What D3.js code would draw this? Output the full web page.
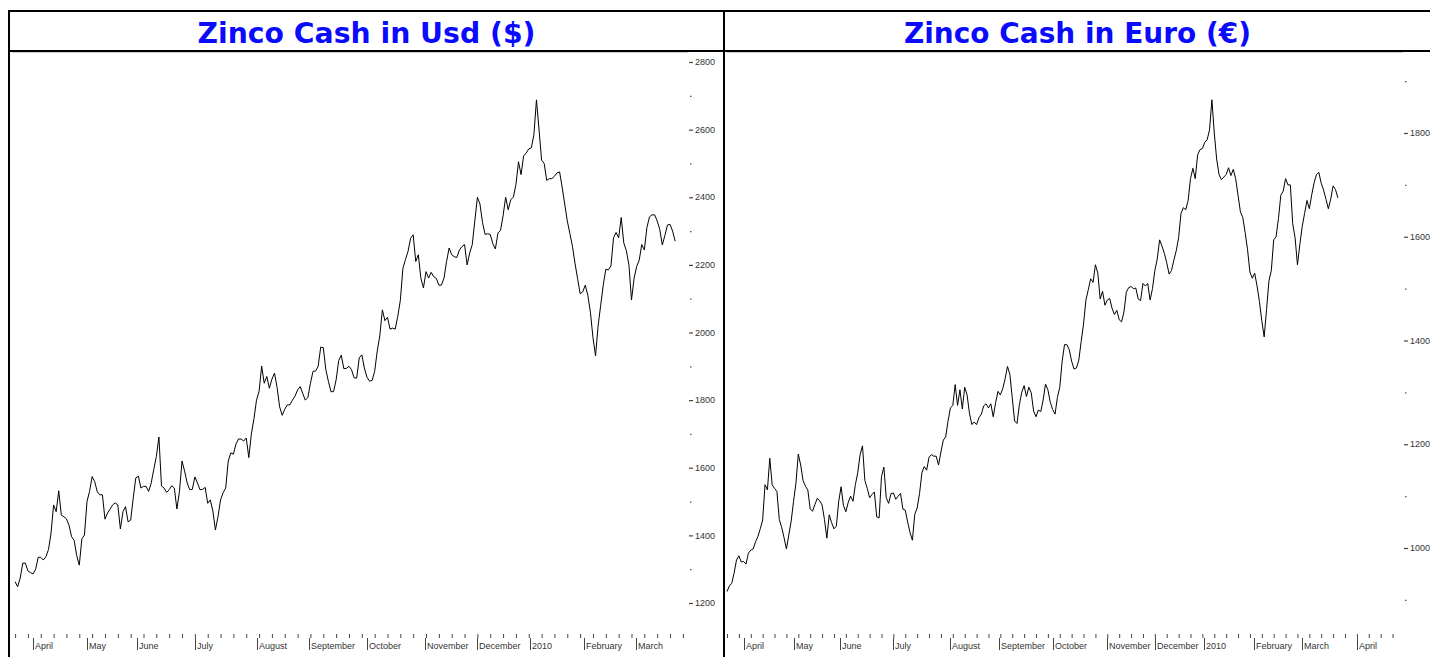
<!DOCTYPE html>
<html>
<head>
<meta charset="utf-8">
<script src="https://cdn.jsdelivr.net/npm/d3@7"></script>
<style>
  body { margin: 0; background: #fff; }
  svg { display: block; font-family: "Liberation Sans", Arial, sans-serif; }
</style>
</head>
<body>
<script>
// zinc cash price, one value per LME trading day (mid March 2009 -> mid March 2010)
const usdValues = [
  1263,1248,1274,1318,1318,1295,1290,1286,1300,1335,1335,1327,1337,1358,1407,1490,1470,1532,1460,1455,
  1449,1430,1396,1385,1340,1312,1390,1401,1500,1530,1574,1559,1529,1520,1520,1448,1466,1478,1490,1496,
  1490,1419,1470,1485,1440,1445,1510,1570,1575,1540,1545,1545,1530,1555,1595,1633,1691,1546,1540,1527,
  1535,1547,1540,1478,1530,1620,1590,1555,1535,1536,1573,1555,1535,1536,1542,1495,1505,1472,1416,1455,
  1505,1526,1540,1620,1644,1640,1670,1685,1685,1679,1688,1630,1700,1745,1800,1826,1901,1850,1870,1835,
  1862,1880,1838,1780,1755,1773,1786,1786,1800,1812,1830,1840,1820,1800,1808,1850,1885,1886,1900,1957,
  1955,1890,1855,1825,1825,1860,1917,1933,1893,1894,1900,1890,1866,1865,1925,1934,1895,1868,1856,1858,
  1885,1945,1990,2067,2035,2045,2010,2013,2010,2048,2095,2190,2216,2240,2279,2289,2210,2230,2160,2132,
  2180,2161,2178,2165,2160,2140,2140,2161,2210,2250,2230,2224,2222,2244,2254,2260,2200,2235,2260,2330,
  2400,2380,2325,2290,2292,2290,2263,2247,2294,2302,2345,2400,2363,2393,2400,2437,2505,2467,2522,2531,
  2543,2546,2585,2688,2600,2510,2500,2450,2455,2455,2462,2472,2475,2430,2380,2330,2293,2255,2205,2160,
  2115,2120,2140,2110,2060,1985,1931,2020,2080,2140,2187,2185,2197,2280,2296,2280,2340,2265,2242,2200,
  2096,2160,2195,2214,2260,2244,2310,2342,2348,2348,2330,2305,2259,2287,2318,2320,2300,2270
];
const eurValues = [
  916,927,932,952,977,985,973,974,969,990,996,998,1012,1022,1037,1054,1122,1112,1173,1122,
  1115,1109,1055,1040,1020,998,1025,1052,1090,1125,1181,1160,1130,1119,1112,1075,1071,1084,1096,1091,
  1083,1055,1019,1064,1049,1037,1042,1090,1118,1082,1070,1088,1100,1090,1122,1145,1180,1197,1130,1115,
  1097,1103,1108,1060,1058,1138,1156,1097,1086,1105,1106,1094,1100,1105,1075,1073,1050,1030,1015,1065,
  1077,1105,1145,1157,1150,1175,1180,1177,1177,1160,1185,1208,1214,1245,1270,1275,1315,1275,1305,1268,
  1310,1295,1260,1238,1243,1238,1251,1258,1274,1278,1270,1278,1253,1280,1302,1295,1307,1326,1350,1335,
  1290,1245,1240,1276,1300,1313,1292,1310,1299,1264,1253,1266,1263,1285,1316,1305,1281,1267,1258,1290,
  1310,1360,1392,1392,1382,1360,1345,1347,1362,1398,1432,1478,1498,1519,1512,1546,1530,1480,1495,1468,
  1478,1481,1462,1450,1458,1440,1436,1455,1493,1502,1504,1500,1501,1480,1477,1510,1505,1510,1478,1500,
  1535,1557,1594,1582,1568,1550,1528,1535,1555,1573,1598,1645,1656,1652,1670,1712,1732,1712,1758,1768,
  1770,1782,1787,1806,1864,1800,1750,1720,1710,1715,1720,1733,1718,1730,1712,1680,1648,1637,1608,1575,
  1532,1520,1530,1505,1475,1438,1407,1460,1515,1535,1594,1600,1635,1680,1688,1712,1700,1700,1625,1598,
  1546,1585,1620,1645,1670,1654,1681,1704,1720,1724,1703,1690,1672,1654,1673,1698,1691,1675
];

// month labels and the trading day where each month starts
const monthLabels = ["April", "May", "June", "July", "August", "September", "October",
                     "November", "December", "2010", "February", "March", "April"];
const monthDays = [7, 28, 47.5, 70, 94, 114.5, 137, 159.7, 180, 200.5, 221.6, 241.8, 265];

const usdTicks = [1200, 1400, 1600, 1800, 2000, 2200, 2400, 2600, 2800];
const eurTicks = [1000, 1200, 1400, 1600, 1800];

const titles = ["Zinco Cash in Usd ($)", "Zinco Cash in Euro (\u20AC)"];

const W = 1430, H = 657;

const svg = d3.select("body").append("svg")
    .attr("width", W)
    .attr("height", H);

// panel layout: left edge, divider, plot area, y scale anchor points
const panels = [
  {title: titles[0], titleWidth: 338, values: usdValues, ticks: usdTicks, left: 10, right: 723,
   x0: 12, x1: 688, dayDomain: [-1.2, 262], yDomain: [1200, 2800], yRange: [603, 62],
   months: monthLabels.slice(0, 12), monthDays: monthDays.slice(0, 12)},
  {title: titles[1], titleWidth: 347, values: eurValues, ticks: eurTicks, left: 725, right: 1430,
   x0: 727, x1: 1403, dayDomain: [0, 284.4], yDomain: [1000, 1800], yRange: [548, 133],
   months: monthLabels, monthDays: monthDays}
];

panels.forEach(p => drawPanel(p));

// outer frame
svg.append("line").attr("x1", 8).attr("x2", W).attr("y1", 11).attr("y2", 11)
    .attr("stroke", "#000").attr("stroke-width", 2);
svg.append("line").attr("x1", 8).attr("x2", W).attr("y1", 51).attr("y2", 51)
    .attr("stroke", "#000").attr("stroke-width", 2);
svg.append("line").attr("x1", 9).attr("x2", 9).attr("y1", 10).attr("y2", H)
    .attr("stroke", "#000").attr("stroke-width", 2);
svg.append("line").attr("x1", 724).attr("x2", 724).attr("y1", 10).attr("y2", H)
    .attr("stroke", "#000").attr("stroke-width", 2);

function drawPanel(p) {
  const g = svg.append("g");

  g.append("text")
      .attr("x", (p.left + p.right) / 2)
      .attr("y", 43)
      .attr("text-anchor", "middle")
      .attr("textLength", p.titleWidth)
      .attr("lengthAdjust", "spacingAndGlyphs")
      .style("font-family", "'DejaVu Sans', Verdana, sans-serif")
      .style("font-weight", "bold")
      .style("font-size", "29px")
      .style("fill", "#0a0aff")
      .text(p.title);

  // thin grey top of the plot
  g.append("line")
      .attr("x1", p.x0).attr("x2", p.x1)
      .attr("y1", 52.5).attr("y2", 52.5)
      .attr("stroke", "#c8c8c8");

  const x = d3.scaleLinear().domain(p.dayDomain).range([p.x0, p.x1]);
  const y = d3.scaleLinear().domain(p.yDomain).range(p.yRange);

  // y axis on the right, labels every 200, small marks every 100
  const minor = d3.range(p.yDomain[0] - 100, p.yDomain[1] + 200, 100)
      .filter(v => !p.ticks.includes(v) && y(v) > 56 && y(v) < 625);

  const yAxis = g.append("g").attr("class", "y axis");
  yAxis.selectAll("line.major")
      .data(p.ticks).enter().append("line")
      .attr("class", "major")
      .attr("x1", p.x1 + 1).attr("x2", p.x1 + 5)
      .attr("y1", d => y(d) + 0.5).attr("y2", d => y(d) + 0.5)
      .attr("stroke", "#444").attr("stroke-width", 1.2);
  yAxis.selectAll("line.minor")
      .data(minor).enter().append("line")
      .attr("class", "minor")
      .attr("x1", p.x1 + 2).attr("x2", p.x1 + 3.5)
      .attr("y1", d => y(d) + 0.5).attr("y2", d => y(d) + 0.5)
      .attr("stroke", "#555").attr("stroke-width", 1.2);
  yAxis.selectAll("text")
      .data(p.ticks).enter().append("text")
      .attr("x", p.x1 + 7)
      .attr("y", d => y(d))
      .attr("dy", "0.35em")
      .style("font-size", "9px")
      .style("fill", "#333")
      .text(d => d);

  // x axis: weekly marks and month starts
  const weeks = d3.range(0, p.dayDomain[1], 5);
  const xAxis = g.append("g").attr("class", "x axis");
  xAxis.selectAll("line.week")
      .data(weeks).enter().append("line")
      .attr("class", "week")
      .attr("x1", d => x(d) + 0.5).attr("x2", d => x(d) + 0.5)
      .attr("y1", 634).attr("y2", 638)
      .attr("stroke", "#444");
  xAxis.selectAll("line.month")
      .data(p.monthDays).enter().append("line")
      .attr("class", "month")
      .attr("x1", d => Math.round(x(d)) + 0.5).attr("x2", d => Math.round(x(d)) + 0.5)
      .attr("y1", 638).attr("y2", 650)
      .attr("stroke", "#444");
  xAxis.selectAll("text")
      .data(p.months).enter().append("text")
      .attr("x", (d, i) => Math.round(x(p.monthDays[i])) + 2)
      .attr("y", 649)
      .style("font-size", "9px")
      .style("fill", "#333")
      .text(d => d);

  const line = d3.line()
      .x((d, i) => x(i))
      .y(d => y(d));

  g.append("path")
      .datum(p.values)
      .attr("fill", "none")
      .attr("stroke", "#000")
      .attr("stroke-width", 1)
      .attr("d", line);
}
</script>
</body>
</html>
